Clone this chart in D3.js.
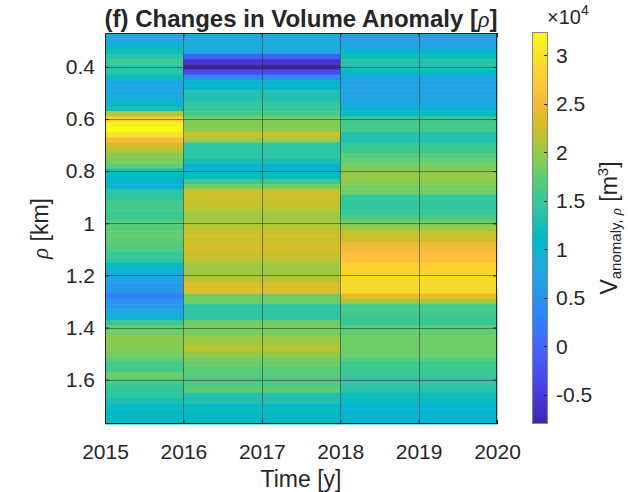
<!DOCTYPE html>
<html><head><meta charset="utf-8">
<script src="https://cdn.jsdelivr.net/npm/d3@7"></script>
<style>
body{margin:0;background:#fff}
svg{display:block}
text{font-family:"Liberation Sans",Arial,Helvetica,sans-serif;fill:#262626}
</style>
</head><body>
<svg id="chart" width="628" height="492"></svg>
<script>
// ---- data ----
const periods = [[2015, 2016], [2016, 2018], [2018, 2020]];
const rho = [0.28,0.30,0.32,0.34,0.36,0.38,0.40,0.42,0.44,0.46,0.48,0.50,0.52,0.54,0.56,0.58,0.60,0.62,0.64,0.66,
  0.68,0.70,0.72,0.74,0.76,0.78,0.80,0.82,0.84,0.86,0.88,0.90,0.92,0.94,0.96,0.98,1.00,1.02,1.04,1.06,
  1.08,1.10,1.12,1.14,1.16,1.18,1.20,1.22,1.24,1.26,1.28,1.30,1.32,1.34,1.36,1.38,1.40,1.42,1.44,1.46,
  1.48,1.50,1.52,1.54,1.56,1.58,1.60,1.62,1.64,1.66,1.68,1.70,1.72,1.74,1.76];
// volume anomaly in units of 1e4 m^3
const vol2015 = [0.75,0.75,1.0,1.2,1.35,1.55,1.4,1.35,1.2,0.8,0.75,0.78,0.9,0.95,1.25,2.1,2.75,3.15,3.24,3.0,
  2.55,2.3,2.1,1.95,1.85,1.75,1.2,1.1,1.0,1.0,1.4,1.4,1.6,1.6,1.55,1.55,1.7,1.7,1.75,1.75,
  1.7,1.65,1.5,1.45,1.15,0.95,0.75,0.7,0.55,0.55,0.3,0.5,0.6,0.8,0.95,1.5,1.75,1.8,1.95,1.95,
  1.9,1.85,1.75,1.6,1.6,1.8,1.7,1.55,1.45,1.4,1.25,1.15,1.1,1.1,1.15];
const vol2016 = [0.85,0.85,0.85,0.8,-0.1,-0.55,-0.8,-0.3,0.4,1.0,1.0,1.3,1.3,1.45,1.5,1.6,1.85,1.9,1.95,2.25,
  2.0,1.4,1.4,1.4,1.25,1.0,1.0,1.15,1.5,1.85,2.25,2.25,2.25,2.15,2.05,2.0,2.1,2.15,2.25,2.25,
  2.3,2.3,2.25,2.15,2.05,2.0,2.05,2.2,2.35,2.35,1.8,1.8,1.4,1.4,1.4,1.8,1.85,1.85,2.0,2.05,
  2.15,2.0,1.85,1.8,1.7,1.7,1.6,1.65,1.75,1.3,1.3,1.15,1.15,1.1,1.1];
const vol2018 = [0.7,0.7,0.75,1.0,1.2,1.35,1.3,1.1,0.75,0.7,0.7,0.72,0.75,0.8,0.95,1.15,1.55,1.6,1.6,1.3,
  1.3,1.5,1.55,1.7,1.75,1.85,1.95,2.0,1.95,1.85,1.8,1.5,1.45,1.45,1.5,1.65,1.85,2.05,2.2,2.25,
  2.45,2.5,2.6,2.65,2.8,2.8,2.9,2.9,2.9,2.9,2.4,2.05,1.6,1.6,1.55,1.5,1.7,1.75,1.8,1.8,
  1.8,1.8,1.7,1.55,1.55,1.5,1.4,1.4,1.35,1.2,1.15,1.0,1.0,1.0,1.0];
const series = [vol2015, vol2016, vol2018];
const xTicks = [2015, 2016, 2017, 2018, 2019, 2020];
const yTicks = [0.4, 0.6, 0.8, 1.0, 1.2, 1.4, 1.6];
const cbTicks = [-0.5, 0, 0.5, 1, 1.5, 2, 2.5, 3];
const rhoStep = 0.02;

// ---- parula colormap (64) ----
const parula = [[0.2422,0.1504,0.6603],[0.2504,0.1650,0.7076],[0.2578,0.1818,0.7511],[0.2647,0.1978,0.7952],
[0.2706,0.2147,0.8364],[0.2751,0.2342,0.8710],[0.2783,0.2559,0.8991],[0.2803,0.2782,0.9221],
[0.2813,0.3006,0.9414],[0.2810,0.3228,0.9579],[0.2795,0.3447,0.9717],[0.2760,0.3667,0.9829],
[0.2699,0.3892,0.9906],[0.2602,0.4123,0.9952],[0.2440,0.4358,0.9988],[0.2206,0.4603,0.9973],
[0.1963,0.4847,0.9892],[0.1834,0.5074,0.9798],[0.1786,0.5289,0.9682],[0.1764,0.5499,0.9520],
[0.1687,0.5703,0.9359],[0.1540,0.5902,0.9218],[0.1460,0.6091,0.9079],[0.1380,0.6276,0.8973],
[0.1248,0.6459,0.8883],[0.1113,0.6635,0.8763],[0.0952,0.6798,0.8598],[0.0689,0.6948,0.8394],
[0.0297,0.7082,0.8163],[0.0036,0.7203,0.7917],[0.0067,0.7312,0.7660],[0.0433,0.7411,0.7394],
[0.0964,0.7500,0.7120],[0.1408,0.7584,0.6842],[0.1717,0.7670,0.6554],[0.1938,0.7758,0.6251],
[0.2161,0.7843,0.5923],[0.2470,0.7918,0.5567],[0.2906,0.7973,0.5188],[0.3406,0.8008,0.4789],
[0.3909,0.8029,0.4354],[0.4456,0.8024,0.3909],[0.5044,0.7993,0.3480],[0.5616,0.7942,0.3045],
[0.6174,0.7876,0.2612],[0.6720,0.7793,0.2227],[0.7242,0.7698,0.1910],[0.7738,0.7598,0.1646],
[0.8203,0.7498,0.1535],[0.8634,0.7406,0.1596],[0.9035,0.7330,0.1774],[0.9393,0.7288,0.2100],
[0.9728,0.7298,0.2394],[0.9956,0.7434,0.2371],[0.9970,0.7659,0.2199],[0.9952,0.7893,0.2028],
[0.9892,0.8136,0.1885],[0.9786,0.8386,0.1766],[0.9676,0.8639,0.1643],[0.9610,0.8890,0.1537],
[0.9597,0.9135,0.1423],[0.9628,0.9373,0.1265],[0.9691,0.9606,0.1064],[0.9769,0.9839,0.0805]]
  .map(c => d3.rgb(c[0]*255, c[1]*255, c[2]*255).formatHex());
const interp = d3.piecewise(d3.interpolateRgb, parula);

// ---- layout ----
const svg = d3.select("#chart");
const P = {l: 105, r: 497, t: 33, b: 424};
const CB = {l: 532, r: 548, t: 32, b: 424};
const axisCol = "#262626";

const x = d3.scaleLinear().domain([2015, 2020]).range([P.l, P.r]);
const y = d3.scaleLinear().domain([rho[0] - rhoStep/2, rho[rho.length-1] + rhoStep/2]).range([P.t, P.b]);
const allVals = series.flat();
const ext = d3.extent(allVals);
const color = d3.scaleSequential(interp).domain(ext);

// cells
const cells = [];
periods.forEach((p, j) => rho.forEach((r, i) => cells.push({p, r, v: series[j][i]})));
svg.append("g").selectAll("rect").data(cells).join("rect")
  .attr("x", d => x(d.p[0]))
  .attr("width", d => x(d.p[1]) - x(d.p[0]) + 0.5)
  .attr("y", d => y(d.r - rhoStep/2))
  .attr("height", d => y(d.r + rhoStep/2) - y(d.r - rhoStep/2) + 0.5)
  .attr("fill", d => color(d.v));

// grid
const grid = svg.append("g").attr("stroke", axisCol).attr("stroke-opacity", 0.5).attr("stroke-width", 1);
grid.selectAll(".gx").data(xTicks.slice(1, -1)).join("line")
  .attr("x1", d => Math.round(x(d)) + 0.5).attr("x2", d => Math.round(x(d)) + 0.5)
  .attr("y1", P.t).attr("y2", P.b);
grid.selectAll(".gy").data(yTicks).join("line")
  .attr("y1", d => Math.round(y(d)) + 0.5).attr("y2", d => Math.round(y(d)) + 0.5)
  .attr("x1", P.l).attr("x2", P.r);

// axes
const fs = 21;
const xAxisB = d3.axisBottom(x).tickValues(xTicks).tickFormat(d3.format("d")).tickSizeInner(-4).tickSizeOuter(0).tickPadding(20);
const gxB = svg.append("g").attr("transform", `translate(0,${P.b})`).call(xAxisB);
const xAxisT = d3.axisTop(x).tickValues(xTicks).tickFormat("").tickSizeInner(-4).tickSizeOuter(0);
const gxT = svg.append("g").attr("transform", `translate(0,${P.t})`).call(xAxisT);
const yAxisL = d3.axisLeft(y).tickValues(yTicks).tickFormat(d3.format(".1f")).tickSizeInner(-4).tickSizeOuter(0).tickPadding(10);
const gyL = svg.append("g").attr("transform", `translate(${P.l},0)`).call(yAxisL);
const yAxisR = d3.axisRight(y).tickValues(yTicks).tickFormat("").tickSizeInner(-4).tickSizeOuter(0);
const gyR = svg.append("g").attr("transform", `translate(${P.r},0)`).call(yAxisR);
[gxB, gxT, gyL, gyR].forEach(g => {
  g.select(".domain").remove();
  g.selectAll("line").attr("stroke", axisCol);
  g.selectAll("text").attr("font-size", fs).attr("fill", axisCol).attr("font-family", null);
});
gyL.selectAll("text").text(d => d === 1 ? "1" : d3.format(".1f")(d));
// box
svg.append("rect").attr("x", P.l + 0.5).attr("y", P.t + 0.5).attr("width", P.r - P.l - 1).attr("height", P.b - P.t - 1)
  .attr("fill", "none").attr("stroke", axisCol).attr("stroke-width", 1);

// labels
svg.append("text").attr("x", (P.l + P.r)/2).attr("y", 487).attr("text-anchor", "middle").attr("font-size", 23).text("Time [y]");
const yl = svg.append("text").attr("transform", `translate(48,${(P.t + P.b)/2}) rotate(-90)`).attr("text-anchor", "middle").attr("font-size", 23);
yl.append("tspan").attr("font-style", "italic").attr("font-family", "Liberation Serif, serif").text("ρ");
yl.append("tspan").text(" [km]");
const title = svg.append("text").attr("x", (P.l + P.r)/2).attr("y", 27).attr("text-anchor", "middle").attr("font-size", 24).attr("font-weight", "bold");
title.append("tspan").text("(f) Changes in Volume Anomaly [");
title.append("tspan").attr("font-style", "italic").attr("font-weight", "normal").attr("font-family", "Liberation Serif, serif").text("ρ");
title.append("tspan").text("]");

// colorbar
const defs = svg.append("defs");
const grad = defs.append("linearGradient").attr("id", "cbg").attr("x1", 0).attr("y1", 1).attr("x2", 0).attr("y2", 0);
d3.range(0, 1.0001, 1/128).forEach(t => grad.append("stop").attr("offset", t).attr("stop-color", interp(t)));
svg.append("rect").attr("x", CB.l).attr("y", CB.t).attr("width", CB.r - CB.l).attr("height", CB.b - CB.t).attr("fill", "url(#cbg)");
const cy = d3.scaleLinear().domain(ext).range([CB.b, CB.t]);
const cbAxis = d3.axisRight(cy).tickValues(cbTicks).tickFormat(d => d === 0 ? "0" : String(d)).tickSizeInner(0).tickSizeOuter(0).tickPadding(8);
const gcb = svg.append("g").attr("transform", `translate(${CB.r},0)`).call(cbAxis);
gcb.select(".domain").remove();
gcb.selectAll("text").attr("font-size", fs).attr("fill", axisCol).attr("font-family", null);
svg.append("g").selectAll("line").data(cbTicks).join("line")
  .attr("x1", CB.r - 4).attr("x2", CB.r).attr("y1", d => Math.round(cy(d)) + 0.5).attr("y2", d => Math.round(cy(d)) + 0.5)
  .attr("stroke", axisCol);
svg.append("rect").attr("x", CB.l + 0.5).attr("y", CB.t + 0.5).attr("width", CB.r - CB.l - 1).attr("height", CB.b - CB.t - 1)
  .attr("fill", "none").attr("stroke", "#888").attr("stroke-width", 1);
const ex = svg.append("text").attr("x", 547).attr("y", 24).attr("font-size", 20);
ex.append("tspan").text("×10");
ex.append("tspan").attr("dy", -9).attr("font-size", 14).text("4");
const cl = svg.append("text").attr("transform", `translate(617,${(CB.t + CB.b)/2}) rotate(-90)`).attr("text-anchor", "middle").attr("font-size", 23);
cl.append("tspan").text("V");
cl.append("tspan").attr("dy", 4).attr("font-size", 15).text("anomaly, ");
cl.append("tspan").attr("font-size", 15).attr("font-style", "italic").attr("font-family", "Liberation Serif, serif").text("ρ");
cl.append("tspan").attr("dy", -4).text(" [m");
cl.append("tspan").attr("dy", -9).attr("font-size", 15).text("3");
cl.append("tspan").attr("dy", 9).text("]");
</script>
</body></html>
